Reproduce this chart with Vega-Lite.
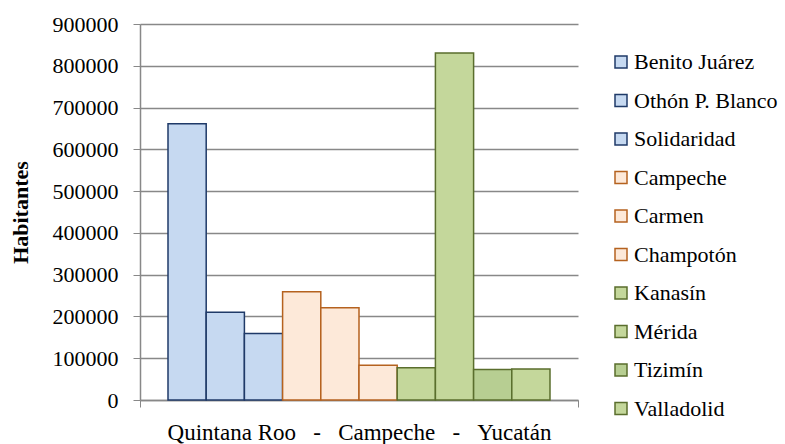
{
  "$schema": "https://vega.github.io/schema/vega-lite/v6.json",
  "autosize": {"type": "none"},
  "padding": {"left": 140, "top": 24, "right": 207, "bottom": 44},
  "width": 438,
  "height": 376,
  "background": "white",
  "config": {
    "view": {"stroke": null},
    "font": "Times New Roman, Liberation Serif, serif",
    "legend": {"labelFont": "Times New Roman, Liberation Serif, serif", "labelFontSize": 22, "labelColor": "#000000"}
  },
  "data": {
    "values": [
      {"grupo": "Quintana Roo\u00a0\u00a0\u00a0-\u00a0\u00a0\u00a0Campeche\u00a0\u00a0\u00a0-\u00a0\u00a0\u00a0Yucatán", "municipio": "Benito Juárez", "habitantes": 661176},
      {"grupo": "Quintana Roo\u00a0\u00a0\u00a0-\u00a0\u00a0\u00a0Campeche\u00a0\u00a0\u00a0-\u00a0\u00a0\u00a0Yucatán", "municipio": "Othón P. Blanco", "habitantes": 210000},
      {"grupo": "Quintana Roo\u00a0\u00a0\u00a0-\u00a0\u00a0\u00a0Campeche\u00a0\u00a0\u00a0-\u00a0\u00a0\u00a0Yucatán", "municipio": "Solidaridad", "habitantes": 159310},
      {"grupo": "Quintana Roo\u00a0\u00a0\u00a0-\u00a0\u00a0\u00a0Campeche\u00a0\u00a0\u00a0-\u00a0\u00a0\u00a0Yucatán", "municipio": "Campeche", "habitantes": 259005},
      {"grupo": "Quintana Roo\u00a0\u00a0\u00a0-\u00a0\u00a0\u00a0Campeche\u00a0\u00a0\u00a0-\u00a0\u00a0\u00a0Yucatán", "municipio": "Carmen", "habitantes": 221094},
      {"grupo": "Quintana Roo\u00a0\u00a0\u00a0-\u00a0\u00a0\u00a0Campeche\u00a0\u00a0\u00a0-\u00a0\u00a0\u00a0Yucatán", "municipio": "Champotón", "habitantes": 83021},
      {"grupo": "Quintana Roo\u00a0\u00a0\u00a0-\u00a0\u00a0\u00a0Campeche\u00a0\u00a0\u00a0-\u00a0\u00a0\u00a0Yucatán", "municipio": "Kanasín", "habitantes": 77240},
      {"grupo": "Quintana Roo\u00a0\u00a0\u00a0-\u00a0\u00a0\u00a0Campeche\u00a0\u00a0\u00a0-\u00a0\u00a0\u00a0Yucatán", "municipio": "Mérida", "habitantes": 830732},
      {"grupo": "Quintana Roo\u00a0\u00a0\u00a0-\u00a0\u00a0\u00a0Campeche\u00a0\u00a0\u00a0-\u00a0\u00a0\u00a0Yucatán", "municipio": "Tizimín", "habitantes": 73138},
      {"grupo": "Quintana Roo\u00a0\u00a0\u00a0-\u00a0\u00a0\u00a0Campeche\u00a0\u00a0\u00a0-\u00a0\u00a0\u00a0Yucatán", "municipio": "Valladolid", "habitantes": 74217}
    ]
  },
  "mark": {"type": "bar", "strokeWidth": 1.5, "fillOpacity": 1},
  "encoding": {
    "x": {
      "field": "grupo",
      "type": "nominal",
      "scale": {"paddingInner": 0, "paddingOuter": 0},
      "axis": {
        "title": null,
        "labelAngle": 0,
        "labelFont": "Times New Roman, Liberation Serif, serif",
        "labelFontSize": 23,
        "labelColor": "#000000",
        "labelPadding": 14,
        "labelLimit": 700,
        "tickBand": "extent",
        "tickSize": 7,
        "tickColor": "#888888",
        "domainColor": "#888888",
        "domainWidth": 1.5,
        "grid": false
      }
    },
    "xOffset": {
      "field": "municipio",
      "type": "nominal",
      "sort": null,
      "scale": {
        "domain": ["Benito Juárez", "Othón P. Blanco", "Solidaridad", "Campeche", "Carmen", "Champotón", "Kanasín", "Mérida", "Tizimín", "Valladolid"],
        "paddingInner": 0,
        "paddingOuter": 0.733
      }
    },
    "y": {
      "field": "habitantes",
      "type": "quantitative",
      "scale": {"domain": [0, 900000], "nice": false},
      "axis": {
        "title": "Habitantes",
        "titleFont": "Times New Roman, Liberation Serif, serif",
        "titleFontSize": 22,
        "titleFontWeight": "bold",
        "titleColor": "#000000",
        "titlePadding": 20,
        "values": [0, 100000, 200000, 300000, 400000, 500000, 600000, 700000, 800000, 900000],
        "format": "d",
        "labelFont": "Times New Roman, Liberation Serif, serif",
        "labelFontSize": 22,
        "labelColor": "#000000",
        "labelPadding": 15,
        "tickSize": 7,
        "tickColor": "#888888",
        "domainColor": "#888888",
        "domainWidth": 1.5,
        "grid": true,
        "gridColor": "#888888",
        "gridWidth": 1.5
      }
    },
    "fill": {
      "field": "municipio",
      "type": "nominal",
      "sort": null,
      "scale": {
        "domain": ["Benito Juárez", "Othón P. Blanco", "Solidaridad", "Campeche", "Carmen", "Champotón", "Kanasín", "Mérida", "Tizimín", "Valladolid"],
        "range": ["#C6D9F1", "#C6D9F1", "#C6D9F1", "#FDE9D9", "#FDE9D9", "#FDE9D9", "#C4D79B", "#C4D79B", "#B7CE92", "#C4D79B"]
      },
      "legend": {
        "title": null,
        "orient": "none",
        "legendX": 470,
        "legendY": 27,
        "symbolType": "square",
        "symbolSize": 144,
        "symbolStrokeWidth": 1.5,
        "labelFont": "Times New Roman, Liberation Serif, serif",
        "labelFontSize": 22,
        "labelColor": "#000000",
        "labelOffset": 2,
        "rowPadding": 16.5,
        "labelLimit": 300
      }
    },
    "stroke": {
      "field": "municipio",
      "type": "nominal",
      "sort": null,
      "scale": {
        "domain": ["Benito Juárez", "Othón P. Blanco", "Solidaridad", "Campeche", "Carmen", "Champotón", "Kanasín", "Mérida", "Tizimín", "Valladolid"],
        "range": ["#1F3A68", "#1F3A68", "#1F3A68", "#B5621F", "#B5621F", "#B5621F", "#5A6E2D", "#5A6E2D", "#5A6E2D", "#5A6E2D"]
      },
      "legend": {
        "title": null,
        "orient": "none",
        "legendX": 470,
        "legendY": 27,
        "symbolType": "square",
        "symbolSize": 144,
        "symbolStrokeWidth": 1.5,
        "labelFont": "Times New Roman, Liberation Serif, serif",
        "labelFontSize": 22,
        "labelColor": "#000000",
        "labelOffset": 2,
        "rowPadding": 16.5,
        "labelLimit": 300
      }
    }
  }
}
